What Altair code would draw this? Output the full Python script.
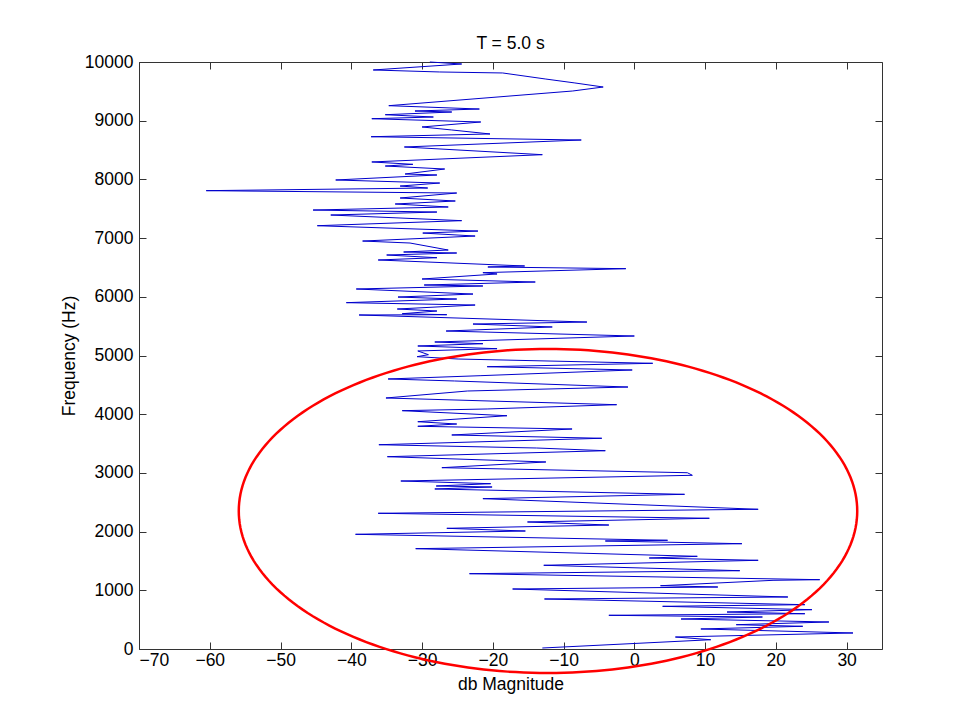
import altair as alt
import pandas as pd
import numpy as np

# Spectrum at T = 5.0 s : frequency (Hz) and magnitude (dB)
FREQ_HZ = [
    10000, 9966, 9864, 9830, 9813, 9711, 9643, 9574, 9506, 9256,
    9199, 9165, 9148, 9102, 9063, 9034, 8978, 8893, 8842, 8774,
    8727, 8671, 8552, 8421, 8297, 8257, 8228, 8177, 8092, 8075,
    7990, 7938, 7887, 7853, 7808, 7768, 7683, 7632, 7581, 7530,
    7478, 7444, 7393, 7297, 7211, 7120, 7086, 7035, 6950, 6916,
    6797, 6763, 6746, 6712, 6666, 6627, 6525, 6508, 6479, 6411,
    6389, 6303, 6252, 6201, 6184, 6133, 6047, 5996, 5962, 5900,
    5860, 5792, 5758, 5712, 5695, 5690, 5570, 5536, 5486, 5417,
    5332, 5230, 5201, 5162, 5116, 5077, 5014, 4980, 4940, 4867,
    4809, 4753, 4656, 4600, 4566, 4463, 4395, 4276, 4162, 4089,
    4060, 3974, 3872, 3833, 3794, 3748, 3646, 3590, 3480, 3424,
    3378, 3276, 3186, 3089, 3003, 2959, 2862, 2816, 2777, 2760,
    2726, 2635, 2561, 2380, 2312, 2227, 2164, 2112, 2056, 2010,
    1954, 1852, 1840, 1794, 1709, 1579, 1550, 1511, 1426, 1334,
    1283, 1181, 1170, 1078, 1056, 1022, 886, 852, 755, 727,
    670, 630, 601, 574, 545, 511, 460, 414, 387, 341,
    273, 204, 158, 17,
]
MAG_DB = [
    -28.9, -24.4, -36.9, -27.5, -18.6, -12.6, -8.4, -4.4, -8.7, -34.7,
    -21.9, -31.0, -25.8, -35.2, -28.4, -37.1, -21.7, -30.0, -25.8, -20.4,
    -37.2, -7.5, -32.5, -13.0, -37.1, -31.3, -35.2, -26.8, -32.4, -27.9,
    -42.2, -27.5, -33.1, -29.2, -60.5, -25.1, -33.1, -25.3, -33.8, -26.3,
    -45.4, -27.9, -42.9, -24.4, -44.8, -22.1, -29.9, -22.5, -38.4, -31.7,
    -26.3, -32.6, -25.1, -35.0, -27.9, -36.2, -15.5, -20.7, -1.2, -21.4,
    -19.4, -30.0, -14.0, -29.7, -21.4, -39.3, -22.8, -33.4, -25.1, -40.7,
    -22.5, -33.5, -27.9, -32.8, -26.5, -38.9, -6.7, -22.8, -11.6, -26.6,
    0.0, -28.2, -21.4, -30.6, -19.4, -30.6, -29.1, -30.7, -24.9, 2.6,
    -20.8, -0.3, -21.8, -34.8, -25.4, -0.9, -23.6, -35.1, -2.5, -20.8,
    -32.8, -18.0, -30.6, -25.1, -30.6, -8.8, -25.8, -4.6, -36.1, -13.8,
    -4.1, -34.9, -12.5, -27.2, 7.5, 8.2, -33.0, -20.3, -28.0, -20.1,
    -28.2, 7.1, -21.4, 17.5, -36.2, 10.6, -15.1, -3.6, -26.5, -15.4,
    -39.4, 4.7, -4.1, 15.2, -30.9, 8.9, 2.1, 17.5, -12.8, 14.9,
    -23.3, 26.2, 19.6, 3.7, 11.8, -17.2, 21.7, -12.7, 24.1, 4.0,
    25.1, 13.1, 24.1, -3.6, 18.1, 6.6, 27.5, 14.4, 23.8, 9.4,
    30.9, 5.8, 10.8, -13.0,
]

X_TICKS = [-70, -60, -50, -40, -30, -20, -10, 0, 10, 20, 30]
Y_TICKS = [0, 1000, 2000, 3000, 4000, 5000, 6000, 7000, 8000, 9000, 10000]

# Red highlight ellipse (annotation): centre and radii in data units
ELLIPSE_CENTER = (-12.2, 2351)
ELLIPSE_RADII = (43.7, 2760)

spec = pd.DataFrame({"hz": FREQ_HZ, "db": MAG_DB})

t = np.linspace(0, 2 * np.pi, 241)
ell = pd.DataFrame({
    "i": np.arange(len(t)),
    "db": ELLIPSE_CENTER[0] + ELLIPSE_RADII[0] * np.cos(t),
    "hz": ELLIPSE_CENTER[1] + ELLIPSE_RADII[1] * np.sin(t),
})

FONT = "Liberation Sans"
FS = 17.5
xscale = alt.Scale(domain=[-70, 35], nice=False, zero=False)
yscale = alt.Scale(domain=[0, 10000], nice=False, zero=False)

x_bottom = alt.Axis(
    orient="bottom", values=X_TICKS, format="d", offset=-7, tickSize=7, domain=False, grid=False,
    labelFont=FONT, labelFontSize=FS, labelColor="black", labelPadding=2,
    title="db Magnitude", titleFont=FONT, titleFontSize=FS, titleFontWeight="normal",
    titleColor="black", titlePadding=7, tickColor="#333333",
)
y_left = alt.Axis(
    orient="left", values=Y_TICKS, format="d", offset=-7, tickSize=7, domain=False, grid=False,
    labelFont=FONT, labelFontSize=FS, labelColor="black", labelPadding=6,
    title="Frequency (Hz)", titleFont=FONT, titleFontSize=FS, titleFontWeight="normal",
    titleColor="black", titlePadding=6, tickColor="#333333",
)
x_top = alt.Axis(
    orient="top", values=X_TICKS, offset=-7, tickSize=7, domain=False, grid=False,
    labels=False, title=None, tickColor="#333333",
)
y_right = alt.Axis(
    orient="right", values=Y_TICKS, offset=-7, tickSize=7, domain=False, grid=False,
    labels=False, title=None, tickColor="#333333",
)

line = alt.Chart(spec).mark_line(color="#0000cc", strokeWidth=1).encode(
    x=alt.X("db:Q", scale=xscale, axis=x_bottom),
    y=alt.Y("hz:Q", scale=yscale, axis=y_left),
    order=alt.Order("hz:Q"),
)

ellipse = alt.Chart(ell).mark_line(color="#ff0000", strokeWidth=2.5, clip=False).encode(
    x=alt.X("db:Q", scale=xscale, axis=x_top),
    y=alt.Y("hz:Q", scale=yscale, axis=y_right),
    order=alt.Order("i:Q"),
)

chart = (
    alt.layer(line, ellipse)
    .resolve_axis(x="independent", y="independent")
    .properties(
        width=743,
        height=587,
        title=alt.TitleParams("T = 5.0 s", font=FONT, fontSize=FS, fontWeight="normal",
                              color="black", offset=1, anchor="middle"),
        autosize=alt.AutoSizeParams(type="none"),
        padding={"left": 131, "top": 54, "right": 76, "bottom": 66},
    )
    .configure(background="white")
    .configure_view(stroke="#333333", strokeWidth=1)
)

chart.save("out.html", embed_options={"renderer": "svg", "actions": False})
